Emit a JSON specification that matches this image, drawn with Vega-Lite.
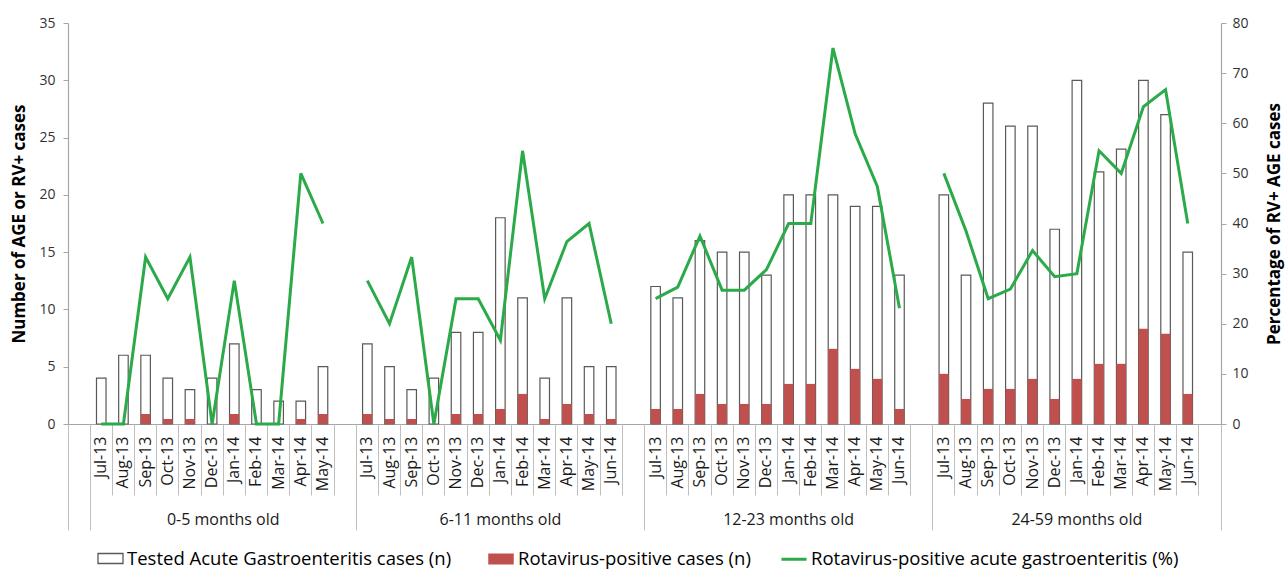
{
  "$schema": "https://vega.github.io/schema/vega-lite/v6.json",
  "width": 1153,
  "height": 401,
  "autosize": "none",
  "padding": {"left": 68, "top": 23, "right": 64, "bottom": 145},
  "background": "white",
  "config": {"view": {"stroke": null}},
  "data": {"values": [
    {"key": "1|Jul-13", "group": "0-5", "tested": 4, "positive": 0, "pct": 0},
    {"key": "1|Aug-13", "group": "0-5", "tested": 6, "positive": 0, "pct": 0},
    {"key": "1|Sep-13", "group": "0-5", "tested": 6, "positive": 2, "pct": 33.3},
    {"key": "1|Oct-13", "group": "0-5", "tested": 4, "positive": 1, "pct": 25},
    {"key": "1|Nov-13", "group": "0-5", "tested": 3, "positive": 1, "pct": 33.3},
    {"key": "1|Dec-13", "group": "0-5", "tested": 4, "positive": 0, "pct": 0},
    {"key": "1|Jan-14", "group": "0-5", "tested": 7, "positive": 2, "pct": 28.6},
    {"key": "1|Feb-14", "group": "0-5", "tested": 3, "positive": 0, "pct": 0},
    {"key": "1|Mar-14", "group": "0-5", "tested": 2, "positive": 0, "pct": 0},
    {"key": "1|Apr-14", "group": "0-5", "tested": 2, "positive": 1, "pct": 50},
    {"key": "1|May-14", "group": "0-5", "tested": 5, "positive": 2, "pct": 40},
    {"key": "2|Jul-13", "group": "6-11", "tested": 7, "positive": 2, "pct": 28.6},
    {"key": "2|Aug-13", "group": "6-11", "tested": 5, "positive": 1, "pct": 20},
    {"key": "2|Sep-13", "group": "6-11", "tested": 3, "positive": 1, "pct": 33.3},
    {"key": "2|Oct-13", "group": "6-11", "tested": 4, "positive": 0, "pct": 0},
    {"key": "2|Nov-13", "group": "6-11", "tested": 8, "positive": 2, "pct": 25},
    {"key": "2|Dec-13", "group": "6-11", "tested": 8, "positive": 2, "pct": 25},
    {"key": "2|Jan-14", "group": "6-11", "tested": 18, "positive": 3, "pct": 16.7},
    {"key": "2|Feb-14", "group": "6-11", "tested": 11, "positive": 6, "pct": 54.5},
    {"key": "2|Mar-14", "group": "6-11", "tested": 4, "positive": 1, "pct": 25},
    {"key": "2|Apr-14", "group": "6-11", "tested": 11, "positive": 4, "pct": 36.4},
    {"key": "2|May-14", "group": "6-11", "tested": 5, "positive": 2, "pct": 40},
    {"key": "2|Jun-14", "group": "6-11", "tested": 5, "positive": 1, "pct": 20},
    {"key": "3|Jul-13", "group": "12-23", "tested": 12, "positive": 3, "pct": 25},
    {"key": "3|Aug-13", "group": "12-23", "tested": 11, "positive": 3, "pct": 27.3},
    {"key": "3|Sep-13", "group": "12-23", "tested": 16, "positive": 6, "pct": 37.5},
    {"key": "3|Oct-13", "group": "12-23", "tested": 15, "positive": 4, "pct": 26.7},
    {"key": "3|Nov-13", "group": "12-23", "tested": 15, "positive": 4, "pct": 26.7},
    {"key": "3|Dec-13", "group": "12-23", "tested": 13, "positive": 4, "pct": 30.8},
    {"key": "3|Jan-14", "group": "12-23", "tested": 20, "positive": 8, "pct": 40},
    {"key": "3|Feb-14", "group": "12-23", "tested": 20, "positive": 8, "pct": 40},
    {"key": "3|Mar-14", "group": "12-23", "tested": 20, "positive": 15, "pct": 75},
    {"key": "3|Apr-14", "group": "12-23", "tested": 19, "positive": 11, "pct": 57.9},
    {"key": "3|May-14", "group": "12-23", "tested": 19, "positive": 9, "pct": 47.4},
    {"key": "3|Jun-14", "group": "12-23", "tested": 13, "positive": 3, "pct": 23.1},
    {"key": "4|Jul-13", "group": "24-59", "tested": 20, "positive": 10, "pct": 50},
    {"key": "4|Aug-13", "group": "24-59", "tested": 13, "positive": 5, "pct": 38.5},
    {"key": "4|Sep-13", "group": "24-59", "tested": 28, "positive": 7, "pct": 25},
    {"key": "4|Oct-13", "group": "24-59", "tested": 26, "positive": 7, "pct": 26.9},
    {"key": "4|Nov-13", "group": "24-59", "tested": 26, "positive": 9, "pct": 34.6},
    {"key": "4|Dec-13", "group": "24-59", "tested": 17, "positive": 5, "pct": 29.4},
    {"key": "4|Jan-14", "group": "24-59", "tested": 30, "positive": 9, "pct": 30},
    {"key": "4|Feb-14", "group": "24-59", "tested": 22, "positive": 12, "pct": 54.5},
    {"key": "4|Mar-14", "group": "24-59", "tested": 24, "positive": 12, "pct": 50},
    {"key": "4|Apr-14", "group": "24-59", "tested": 30, "positive": 19, "pct": 63.3},
    {"key": "4|May-14", "group": "24-59", "tested": 27, "positive": 18, "pct": 66.7},
    {"key": "4|Jun-14", "group": "24-59", "tested": 15, "positive": 6, "pct": 40}
  ]},
  "layer": [
    {
      "mark": {"type": "bar", "fill": "white", "strokeWidth": 1.2, "width": {"band": 0.43}},
      "encoding": {
        "x": {"field": "key", "type": "nominal",
          "scale": {"type": "band", "paddingInner": 0, "paddingOuter": 0, "domain": ["0|","1|Jul-13","1|Aug-13","1|Sep-13","1|Oct-13","1|Nov-13","1|Dec-13","1|Jan-14","1|Feb-14","1|Mar-14","1|Apr-14","1|May-14","1|","2|Jul-13","2|Aug-13","2|Sep-13","2|Oct-13","2|Nov-13","2|Dec-13","2|Jan-14","2|Feb-14","2|Mar-14","2|Apr-14","2|May-14","2|Jun-14","2|","3|Jul-13","3|Aug-13","3|Sep-13","3|Oct-13","3|Nov-13","3|Dec-13","3|Jan-14","3|Feb-14","3|Mar-14","3|Apr-14","3|May-14","3|Jun-14","3|","4|Jul-13","4|Aug-13","4|Sep-13","4|Oct-13","4|Nov-13","4|Dec-13","4|Jan-14","4|Feb-14","4|Mar-14","4|Apr-14","4|May-14","4|Jun-14","4|"]},
          "axis": {"orient": "bottom", "title": null, "labelExpr": "split(datum.value, '|')[1]", "labelAngle": 270, "labelAlign": "right", "labelBaseline": "middle", "labelFont": "Open Sans", "labelFontSize": 16, "labelColor": "#1a1a1a", "ticks": false, "tickSize": 0, "labelPadding": 12, "domain": true, "domainColor": "#A6A6A6", "domainWidth": 1.2, "grid": false, "labelOverlap": false, "labelBound": false}
        },
        "y": {"field": "tested", "type": "quantitative", "scale": {"domain": [0, 35], "nice": false},
          "axis": {"title": "Number of AGE or RV+ cases", "titleFont": "Open Sans", "titleFontSize": 17, "titleFontWeight": "bold", "titleColor": "#000000", "titlePadding": 10, "values": [0,5,10,15,20,25,30,35], "labelFont": "Open Sans", "labelFontSize": 14, "labelColor": "#333333", "tickSize": 5, "tickColor": "#A6A6A6", "domainColor": "#A6A6A6", "domainWidth": 1.2, "grid": false, "labelPadding": 8}
        },
        "stroke": {"datum": "Tested Acute Gastroenteritis cases (n)",
          "scale": {"domain": ["Tested Acute Gastroenteritis cases (n)"], "range": ["#595959"]},
          "legend": {"orient": "none", "legendX": 29, "legendY": 522, "direction": "horizontal", "title": null, "labelFont": "Open Sans", "labelFontSize": 18.5, "labelColor": "#000000", "labelLimit": 700, "symbolSize": 625, "symbolType": "M-1,-0.4H1V0.4H-1Z", "symbolStrokeWidth": 1.3, "symbolFillColor": "white", "labelOffset": 3}
        }
      }
    },
    {
      "mark": {"type": "bar", "width": {"band": 0.43}},
      "encoding": {
        "x": {"field": "key", "type": "nominal",
          "scale": {"type": "band", "paddingInner": 0, "paddingOuter": 0, "domain": ["0|","1|Jul-13","1|Aug-13","1|Sep-13","1|Oct-13","1|Nov-13","1|Dec-13","1|Jan-14","1|Feb-14","1|Mar-14","1|Apr-14","1|May-14","1|","2|Jul-13","2|Aug-13","2|Sep-13","2|Oct-13","2|Nov-13","2|Dec-13","2|Jan-14","2|Feb-14","2|Mar-14","2|Apr-14","2|May-14","2|Jun-14","2|","3|Jul-13","3|Aug-13","3|Sep-13","3|Oct-13","3|Nov-13","3|Dec-13","3|Jan-14","3|Feb-14","3|Mar-14","3|Apr-14","3|May-14","3|Jun-14","3|","4|Jul-13","4|Aug-13","4|Sep-13","4|Oct-13","4|Nov-13","4|Dec-13","4|Jan-14","4|Feb-14","4|Mar-14","4|Apr-14","4|May-14","4|Jun-14","4|"]},
          "axis": {"orient": "bottom", "title": null, "labels": false, "domain": false, "ticks": true, "tickSize": 71, "tickColor": "#BFBFBF", "tickWidth": 1, "bandPosition": 0, "grid": false,
            "values": ["1|Aug-13","1|Sep-13","1|Oct-13","1|Nov-13","1|Dec-13","1|Jan-14","1|Feb-14","1|Mar-14","1|Apr-14","1|May-14","1|","2|Aug-13","2|Sep-13","2|Oct-13","2|Nov-13","2|Dec-13","2|Jan-14","2|Feb-14","2|Mar-14","2|Apr-14","2|May-14","2|Jun-14","2|","3|Aug-13","3|Sep-13","3|Oct-13","3|Nov-13","3|Dec-13","3|Jan-14","3|Feb-14","3|Mar-14","3|Apr-14","3|May-14","3|Jun-14","3|","4|Aug-13","4|Sep-13","4|Oct-13","4|Nov-13","4|Dec-13","4|Jan-14","4|Feb-14","4|Mar-14","4|Apr-14","4|May-14","4|Jun-14","4|"]}
        },
        "y": {"field": "positive", "type": "quantitative", "scale": {"domain": [0, 80], "nice": false}, "axis": null},
        "color": {"datum": "Rotavirus-positive cases (n)",
          "scale": {"domain": ["Rotavirus-positive cases (n)", "Rotavirus-positive acute gastroenteritis (%)"], "range": ["#C0504D", "#2BAA4A"]},
          "legend": {"orient": "none", "legendX": 419, "legendY": 522, "direction": "horizontal", "title": null, "labelFont": "Open Sans", "labelFontSize": 18.5, "labelColor": "#000000", "labelLimit": 700, "symbolSize": 625, "symbolStrokeWidth": 3, "labelOffset": 3, "columnPadding": 24,
            "encoding": {"symbols": {
              "shape": {"value": {"expr": "datum.value == 'Rotavirus-positive acute gastroenteritis (%)' ? 'stroke' : 'M-0.9,-0.32H0.9V0.32H-0.9Z'"}},
              "strokeWidth": {"value": 3}
            }}
          }
        }
      }
    },
    {
      "mark": {"type": "line", "strokeWidth": 3},
      "encoding": {
        "x": {"field": "key", "type": "nominal",
          "scale": {"type": "band", "paddingInner": 0, "paddingOuter": 0, "domain": ["0|","1|Jul-13","1|Aug-13","1|Sep-13","1|Oct-13","1|Nov-13","1|Dec-13","1|Jan-14","1|Feb-14","1|Mar-14","1|Apr-14","1|May-14","1|","2|Jul-13","2|Aug-13","2|Sep-13","2|Oct-13","2|Nov-13","2|Dec-13","2|Jan-14","2|Feb-14","2|Mar-14","2|Apr-14","2|May-14","2|Jun-14","2|","3|Jul-13","3|Aug-13","3|Sep-13","3|Oct-13","3|Nov-13","3|Dec-13","3|Jan-14","3|Feb-14","3|Mar-14","3|Apr-14","3|May-14","3|Jun-14","3|","4|Jul-13","4|Aug-13","4|Sep-13","4|Oct-13","4|Nov-13","4|Dec-13","4|Jan-14","4|Feb-14","4|Mar-14","4|Apr-14","4|May-14","4|Jun-14","4|"]},
          "axis": {"orient": "bottom", "title": null, "labels": false, "domain": false, "ticks": true, "tickSize": 106, "tickColor": "#BFBFBF", "tickWidth": 1, "bandPosition": 0, "grid": false,
            "values": ["0|","1|Jul-13","2|Jul-13","3|Jul-13","4|Jul-13"]}
        },
        "y": {"field": "pct", "type": "quantitative", "scale": {"domain": [0, 80], "nice": false},
          "axis": {"orient": "right", "title": "Percentage of RV+ AGE cases", "titleAngle": 270, "titleFont": "Open Sans", "titleFontSize": 17, "titleFontWeight": "bold", "titleColor": "#000000", "titlePadding": 35, "values": [0,10,20,30,40,50,60,70,80], "labelFont": "Open Sans", "labelFontSize": 14, "labelColor": "#333333", "tickSize": 5, "tickColor": "#A6A6A6", "domainColor": "#A6A6A6", "domainWidth": 1.2, "grid": false, "labelPadding": 6}
        },
        "detail": {"field": "group", "type": "nominal"},
        "color": {"datum": "Rotavirus-positive acute gastroenteritis (%)"}
      }
    },
    {
      "data": {"values": [{"key": "1|Jan-14", "label": "0-5 months old"}]},
      "mark": {"type": "text", "font": "Open Sans", "fontSize": 16, "color": "#1a1a1a", "baseline": "middle", "align": "center"},
      "encoding": {
        "x": {"field": "key", "type": "nominal", "bandPosition": 0,
          "scale": {"type": "band", "paddingInner": 0, "paddingOuter": 0, "domain": ["0|","1|Jul-13","1|Aug-13","1|Sep-13","1|Oct-13","1|Nov-13","1|Dec-13","1|Jan-14","1|Feb-14","1|Mar-14","1|Apr-14","1|May-14","1|","2|Jul-13","2|Aug-13","2|Sep-13","2|Oct-13","2|Nov-13","2|Dec-13","2|Jan-14","2|Feb-14","2|Mar-14","2|Apr-14","2|May-14","2|Jun-14","2|","3|Jul-13","3|Aug-13","3|Sep-13","3|Oct-13","3|Nov-13","3|Dec-13","3|Jan-14","3|Feb-14","3|Mar-14","3|Apr-14","3|May-14","3|Jun-14","3|","4|Jul-13","4|Aug-13","4|Sep-13","4|Oct-13","4|Nov-13","4|Dec-13","4|Jan-14","4|Feb-14","4|Mar-14","4|Apr-14","4|May-14","4|Jun-14","4|"]},
          "axis": {"orient": "bottom", "title": null, "labels": false, "domain": false, "ticks": true, "tickSize": 106, "tickColor": "#BFBFBF", "tickWidth": 1, "bandPosition": 1, "grid": false, "values": ["4|"]}
        },
        "y": {"datum": -8.4, "type": "quantitative", "scale": {"domain": [0, 35], "nice": false}, "axis": null},
        "text": {"field": "label", "type": "nominal"}
      }
    },
    {
      "data": {"values": [
        {"key": "2|Jan-14", "label": "6-11 months old"},
        {"key": "3|Jan-14", "label": "12-23 months old"},
        {"key": "4|Jan-14", "label": "24-59 months old"}
      ]},
      "mark": {"type": "text", "font": "Open Sans", "fontSize": 16, "color": "#1a1a1a", "baseline": "middle", "align": "center"},
      "encoding": {
        "x": {"field": "key", "type": "nominal",
          "scale": {"type": "band", "paddingInner": 0, "paddingOuter": 0, "domain": ["0|","1|Jul-13","1|Aug-13","1|Sep-13","1|Oct-13","1|Nov-13","1|Dec-13","1|Jan-14","1|Feb-14","1|Mar-14","1|Apr-14","1|May-14","1|","2|Jul-13","2|Aug-13","2|Sep-13","2|Oct-13","2|Nov-13","2|Dec-13","2|Jan-14","2|Feb-14","2|Mar-14","2|Apr-14","2|May-14","2|Jun-14","2|","3|Jul-13","3|Aug-13","3|Sep-13","3|Oct-13","3|Nov-13","3|Dec-13","3|Jan-14","3|Feb-14","3|Mar-14","3|Apr-14","3|May-14","3|Jun-14","3|","4|Jul-13","4|Aug-13","4|Sep-13","4|Oct-13","4|Nov-13","4|Dec-13","4|Jan-14","4|Feb-14","4|Mar-14","4|Apr-14","4|May-14","4|Jun-14","4|"]},
          "axis": null
        },
        "y": {"datum": -8.4, "type": "quantitative", "scale": {"domain": [0, 35], "nice": false}, "axis": null},
        "text": {"field": "label", "type": "nominal"}
      }
    }
  ],
  "resolve": {"scale": {"y": "independent"}, "axis": {"x": "independent", "y": "independent"}}
}
